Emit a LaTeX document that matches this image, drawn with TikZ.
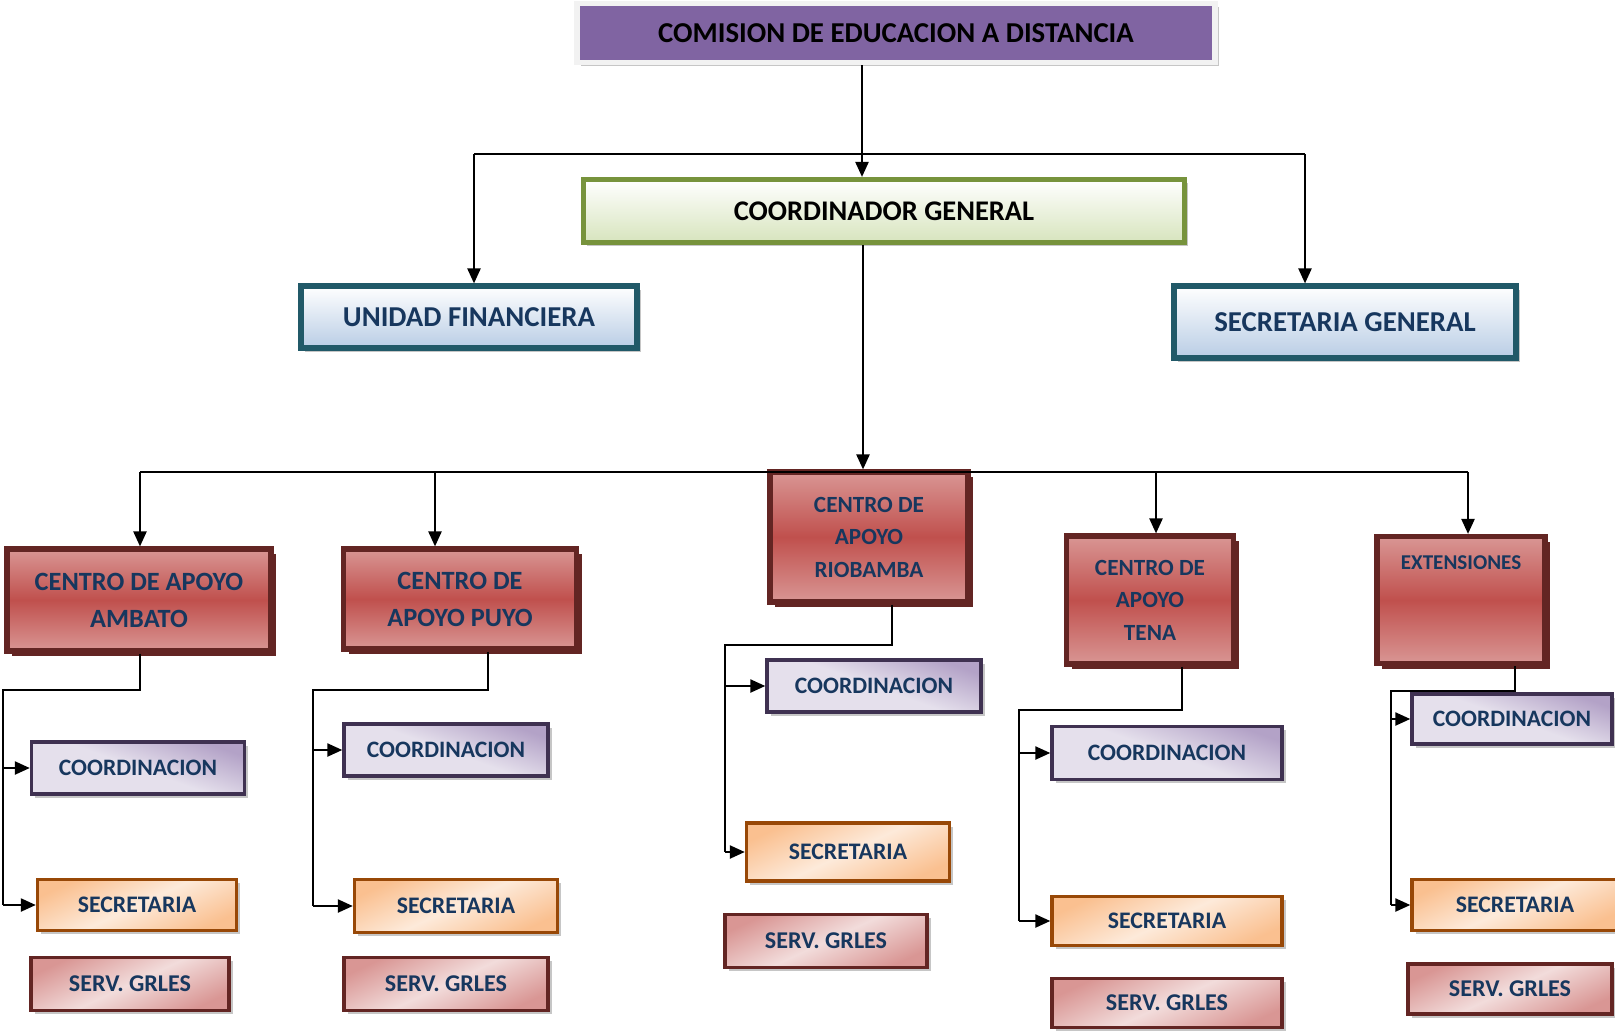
\documentclass[tikz,border=0pt]{standalone}
\usepackage{fontspec}
\setmainfont{Carlito}
\usetikzlibrary{arrows.meta,shadows}

\definecolor{txtnavy}{HTML}{17375E}
\definecolor{cPlum}{HTML}{8064A2}
\definecolor{cOlive}{HTML}{77933C}
\definecolor{cLeaf}{HTML}{D7E4BD}
\definecolor{cTealDk}{HTML}{215968}
\definecolor{cSky}{HTML}{B9CDE5}
\definecolor{cMaroon}{HTML}{632523}
\definecolor{cRed}{HTML}{C0504D}
\definecolor{cRose}{HTML}{D99694}
\definecolor{cPink}{HTML}{F2DCDB}
\definecolor{cGrape}{HTML}{3F3151}
\definecolor{cLilac}{HTML}{B3A2C7}
\definecolor{cLilacLt}{HTML}{E5E0EC}
\definecolor{cRust}{HTML}{984807}
\definecolor{cPeach}{HTML}{FAC090}
\definecolor{cPeachLt}{HTML}{FDEADA}

\begin{document}
\begin{tikzpicture}[
  x=0.02cm, y=-0.02cm,
  sz/.style 2 args={minimum width=#1*0.02cm, minimum height=#2*0.02cm},
  box/.style={rectangle, inner sep=0pt, align=center, text=txtnavy,
    general shadow={fill=gray!45, shadow xshift=2pt, shadow yshift=-2pt}},
  comision/.style={box, fill=cPlum, draw=gray!10, line width=3pt, text=black,
    font=\fontsize{16.4}{19}\selectfont\bfseries},
  coordgen/.style={box, draw=cOlive, line width=3pt, top color=white, bottom color=cLeaf,
    text=black, font=\fontsize{16.2}{19}\selectfont\bfseries},
  unidad/.style={box, draw=cTealDk, line width=3pt, top color=white, bottom color=cSky,
    font=\fontsize{16.4}{19}\selectfont\bfseries},
  centro/.style={rectangle, inner sep=0pt, align=center, text=txtnavy, draw=cMaroon, line width=3pt,
    top color=cRose, bottom color=cRose, middle color=cRed,
    general shadow={fill=cMaroon, shadow xshift=3pt, shadow yshift=-3pt}},
  big/.style={font=\fontsize{15}{21}\selectfont\bfseries},
  mid/.style={font=\fontsize{13.2}{18.5}\selectfont\bfseries},
  coordbox/.style={box, draw=cGrape, line width=2pt, top color=cLilac, bottom color=cLilacLt,
    middle color=cLilacLt, shading angle=-20, font=\fontsize{13.4}{15}\selectfont\bfseries},
  secbox/.style={box, draw=cRust, line width=2pt, top color=cPeach, bottom color=cPeach,
    middle color=cPeachLt, shading angle=25, font=\fontsize{13.5}{15}\selectfont\bfseries},
  servbox/.style={box, draw=cMaroon, line width=2pt, top color=cRose, bottom color=cRose,
    middle color=cPink, shading angle=25, font=\fontsize{13.7}{15}\selectfont\bfseries},
  line/.style={line width=1pt},
  arr/.style={line, -{Triangle[length=8.5pt,width=7.5pt]}}
]
\useasboundingbox (0,0) rectangle (1615,1031);

% top levels
\node[comision, sz={638}{59}] (comision) at (896,33) {COMISION DE EDUCACION A DISTANCIA};
\node[coordgen, sz={601}{63}] (coordgen) at (884,211) {COORDINADOR GENERAL};
\node[unidad, sz={336}{62}] (unidad) at (469,317) {UNIDAD FINANCIERA};
\node[unidad, sz={342}{72}] (secgen) at (1345,322) {SECRETARIA GENERAL};

% centros
\node[centro, big, sz={264}{102}] (ambato) at (139,600) {CENTRO DE APOYO\\AMBATO};
\node[centro, big, sz={233}{100}] (puyo) at (460,599) {CENTRO DE\\APOYO PUYO};
\node[centro, mid, sz={198}{130}] (riobamba) at (869,537) {CENTRO DE\\APOYO\\RIOBAMBA};
\node[centro, mid, sz={167}{128}] (tena) at (1150,600) {CENTRO DE\\APOYO\\TENA};
\node[centro, sz={168}{127}, font=\fontsize{12}{14}\selectfont\bfseries,
  text height=18.8pt, text depth=53.5pt] (ext) at (1461,600) {EXTENSIONES};

% ambato
\node[coordbox, sz={213}{52}] (coordA) at (138,768) {COORDINACION};
\node[secbox, sz={199}{51}] (secA) at (137,905) {SECRETARIA};
\node[servbox, sz={198}{53}] (servA) at (130,984) {SERV. GRLES};
% puyo
\node[coordbox, sz={204}{52}] (coordP) at (446,750) {COORDINACION};
\node[secbox, sz={203}{53}] (secP) at (456,906) {SECRETARIA};
\node[servbox, sz={204}{53}] (servP) at (446,984) {SERV. GRLES};
% riobamba
\node[coordbox, sz={214}{52}] (coordR) at (874,686) {COORDINACION};
\node[secbox, sz={203}{58}] (secR) at (848,852) {SECRETARIA};
\node[servbox, sz={202}{53}] (servR) at (826,941) {SERV. GRLES};
% tena
\node[coordbox, sz={230}{53}] (coordT) at (1167,753) {COORDINACION};
\node[secbox, sz={230}{49}] (secT) at (1167,921) {SECRETARIA};
\node[servbox, sz={230}{49}] (servT) at (1167,1003) {SERV. GRLES};
% extensiones
\node[coordbox, sz={200}{50}] (coordE) at (1512,719) {COORDINACION};
\node[secbox, sz={206}{51}] (secE) at (1515,905) {SECRETARIA};
\node[servbox, sz={204}{50}] (servE) at (1510,989) {SERV. GRLES};

% upper connectors
\coordinate (t1) at (862,154);
\coordinate (b1l) at (474,154);
\coordinate (b1r) at (1305,154);
\draw[arr] (comision.south -| t1) -- (coordgen.north -| t1);
\draw[line] (b1l) -- (b1r);
\draw[arr] (b1l) -- (b1l |- unidad.north);
\draw[arr] (b1r) -- (b1r |- secgen.north);

\coordinate (t2) at (863,472);
\draw[arr] (coordgen.south -| t2) -- (riobamba.north -| t2);

\coordinate (b2l) at (140,472);
\coordinate (b2p) at (435,472);
\coordinate (b2t) at (1156,472);
\coordinate (b2r) at (1468,472);
\draw[line] (b2l) -- (b2r);
\draw[arr] (b2l) -- (b2l |- ambato.north);
\draw[arr] (b2p) -- (b2p |- puyo.north);
\draw[arr] (b2t) -- (b2t |- tena.north);
\draw[arr] (b2r) -- (b2r |- ext.north);

% lower connectors
\coordinate (dA) at (140,690);  \coordinate (sA) at (3,690);
\coordinate (dP) at (488,690);  \coordinate (sP) at (313,690);
\coordinate (dR) at (892,645);  \coordinate (sR) at (725,645);
\coordinate (dT) at (1182,710); \coordinate (sT) at (1019,710);
\coordinate (dE) at (1515,691); \coordinate (sE) at (1391,691);

\draw[line] (ambato.south -| dA) -- (dA) -- (sA) -- (sA |- secA.west);
\draw[arr] (sA |- coordA.west) -- (coordA.west);
\draw[arr] (sA |- secA.west) -- (secA.west);

\draw[line] (puyo.south -| dP) -- (dP) -- (sP) -- (sP |- secP.west);
\draw[arr] (sP |- coordP.west) -- (coordP.west);
\draw[arr] (sP |- secP.west) -- (secP.west);

\draw[line] (riobamba.south -| dR) -- (dR) -- (sR) -- (sR |- secR.west);
\draw[arr] (sR |- coordR.west) -- (coordR.west);
\draw[arr] (sR |- secR.west) -- (secR.west);

\draw[line] (tena.south -| dT) -- (dT) -- (sT) -- (sT |- secT.west);
\draw[arr] (sT |- coordT.west) -- (coordT.west);
\draw[arr] (sT |- secT.west) -- (secT.west);

\draw[line] (ext.south -| dE) -- (dE) -- (sE) -- (sE |- secE.west);
\draw[arr] (sE |- coordE.west) -- (coordE.west);
\draw[arr] (sE |- secE.west) -- (secE.west);
\end{tikzpicture}
\end{document}
